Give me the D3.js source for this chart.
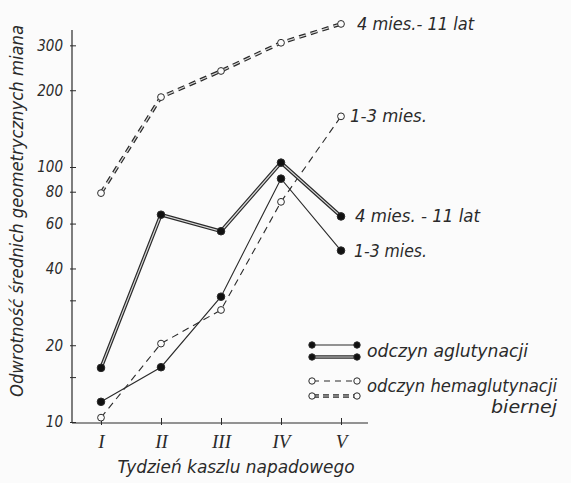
<!DOCTYPE html>
<html><head><meta charset="utf-8">
<script src="https://cdn.jsdelivr.net/npm/d3@7"></script>
<style>
html,body{margin:0;padding:0;background:#fbfbfb;}
svg{display:block;}
text{font-family:"DejaVu Sans Condensed","Liberation Sans Narrow","DejaVu Sans",sans-serif;font-style:italic;fill:#2a2a2a;}
.roman{font-family:"Liberation Serif","DejaVu Serif",serif;font-style:italic;}
</style></head>
<body>
<script>
const weeks = ["I","II","III","IV","V"];
const aglut_1_3 = [12, 16.4, 31, 90, 47];
const aglut_4_11 = [16.3, 65, 56, 104, 64];
const hemag_1_3 = [10.4, 20.3, 27.5, 73, 158];
const hemag_4_11 = [79, 188, 238, 307, 364];
const yTickValues = [10, 15, 20, 30, 40, 60, 80, 100, 200, 300];
const yTickLabels = ["10", "", "20", "", "40", "60", "80", "100", "200", "300"];
const endLabels = ["4 mies.- 11 lat", "1-3 mies.", "4 mies. - 11 lat", "1-3 mies."];
const legendLabels = ["odczyn aglutynacji", "odczyn hemaglutynacji", "biernej"];
const yTitle = "Odwrotność średnich geometrycznych miana";
const xTitle = "Tydzień kaszlu napadowego";

const W = 571, H = 483;
const svg = d3.select("body").append("svg").attr("width", W).attr("height", H);
const ink = "#2a2a2a";

const x = d3.scalePoint().domain(weeks).range([101, 341]);
const y = d3.scaleLog().domain([10, 1000]).range([422, -88]);

// axes lines
svg.append("line").attr("x1",72).attr("x2",72).attr("y1",423).attr("y2",30).attr("stroke",ink).attr("stroke-width",1.2);
svg.append("line").attr("x1",72).attr("x2",368).attr("y1",423).attr("y2",423).attr("stroke",ink).attr("stroke-width",1.2);

// y axis ticks
const yAxis = d3.axisLeft(y).tickValues(yTickValues).tickSize(0).tickPadding(9)
  .tickFormat((d,i)=>yTickLabels[i]);
const gy = svg.append("g").attr("transform","translate(72,0)").call(yAxis);
gy.select(".domain").remove();
gy.selectAll(".tick text").attr("font-size",15).style("font-family",'"DejaVu Sans Condensed","Liberation Sans Narrow",sans-serif').attr("fill",ink);
gy.selectAll(".tick").append("line").attr("x1",-2).attr("x2",4).attr("stroke",ink).attr("stroke-width",1);

// x axis
const xAxis = d3.axisBottom(x).tickSize(0).tickPadding(12);
const gx = svg.append("g").attr("transform","translate(0,423)").call(xAxis);
gx.select(".domain").remove();
gx.selectAll(".tick text").attr("class","roman").attr("font-size",19).attr("fill",ink);
gx.selectAll(".tick").append("line").attr("y1",-5).attr("y2",2).attr("stroke",ink).attr("stroke-width",1);

const line = d3.line().x((d,i)=>x(weeks[i])).y(d=>y(d));

function drawSeries(vals, opts){
  const g = svg.append("g");
  if(opts.double){
    g.append("path").attr("d",line(vals)).attr("fill","none").attr("stroke",ink)
      .attr("stroke-width",3.6).attr("stroke-dasharray",opts.dash||null);
    g.append("path").attr("d",line(vals)).attr("fill","none").attr("stroke","#d8d8d8")
      .attr("stroke-width",1.2).attr("stroke-dasharray",opts.dash||null);
  } else {
    g.append("path").attr("d",line(vals)).attr("fill","none").attr("stroke",ink)
      .attr("stroke-width",1.1).attr("stroke-dasharray",opts.dash||null);
  }
  g.selectAll("circle").data(vals).join("circle")
    .attr("cx",(d,i)=>x(weeks[i])).attr("cy",d=>y(d)).attr("r",opts.filled?3.8:3.4)
    .attr("fill",opts.filled?"#111":"#fbfbfb").attr("stroke",ink).attr("stroke-width",1);
}
drawSeries(hemag_1_3,{dash:"7,5",filled:false});
drawSeries(hemag_4_11,{double:true,dash:"7,5",filled:false});
drawSeries(aglut_1_3,{filled:true});
drawSeries(aglut_4_11,{double:true,filled:true});

// end labels
const endVals = [hemag_4_11[4], hemag_1_3[4], aglut_4_11[4], aglut_1_3[4]];
const endDx = [16, 9, 14, 13];
const endLen = [117, 77, 125, 73];
svg.selectAll(".endlab").data(endLabels).join("text").attr("class","endlab")
  .attr("x",(d,i)=>x("V")+endDx[i]).attr("y",(d,i)=>y(endVals[i])+6)
  .attr("font-size",17).attr("textLength",(d,i)=>endLen[i]).attr("lengthAdjust","spacingAndGlyphs")
  .text(d=>d);

// legend
const lg = svg.append("g");
const rows = [
  {yy:345, double:false, dash:null, filled:true},
  {yy:357, double:true, dash:null, filled:true},
  {yy:381, double:false, dash:"6,5", filled:false},
  {yy:396, double:true, dash:"6,4", filled:false}
];
rows.forEach(r=>{
  if(r.double){
    lg.append("line").attr("x1",313).attr("x2",357).attr("y1",r.yy).attr("y2",r.yy).attr("stroke",ink).attr("stroke-width",3.4).attr("stroke-dasharray",r.dash);
    lg.append("line").attr("x1",313).attr("x2",357).attr("y1",r.yy).attr("y2",r.yy).attr("stroke","#d8d8d8").attr("stroke-width",1.1).attr("stroke-dasharray",r.dash);
  } else {
    lg.append("line").attr("x1",313).attr("x2",357).attr("y1",r.yy).attr("y2",r.yy).attr("stroke",ink).attr("stroke-width",1.1).attr("stroke-dasharray",r.dash);
  }
  [312,357].forEach(cx=>lg.append("circle").attr("cx",cx).attr("cy",r.yy).attr("r",3.2)
    .attr("fill",r.filled?"#111":"#fbfbfb").attr("stroke",ink).attr("stroke-width",1));
});
lg.append("text").attr("x",367).attr("y",357).attr("font-size",17).attr("textLength",161).attr("lengthAdjust","spacingAndGlyphs").text(legendLabels[0]);
lg.append("text").attr("x",367).attr("y",392).attr("font-size",17).attr("textLength",190).attr("lengthAdjust","spacingAndGlyphs").text(legendLabels[1]);
lg.append("text").attr("x",557).attr("y",413).attr("font-size",17).attr("text-anchor","end").attr("textLength",66).attr("lengthAdjust","spacingAndGlyphs").text(legendLabels[2]);

// titles
svg.append("text").attr("transform","translate(23,211) rotate(-90)").attr("text-anchor","middle")
  .attr("font-size",18).attr("textLength",372).attr("lengthAdjust","spacingAndGlyphs").text(yTitle);
svg.append("text").attr("x",236).attr("y",473).attr("text-anchor","middle").attr("font-size",18)
  .attr("textLength",237).attr("lengthAdjust","spacingAndGlyphs").text(xTitle);
</script>
</body></html>
